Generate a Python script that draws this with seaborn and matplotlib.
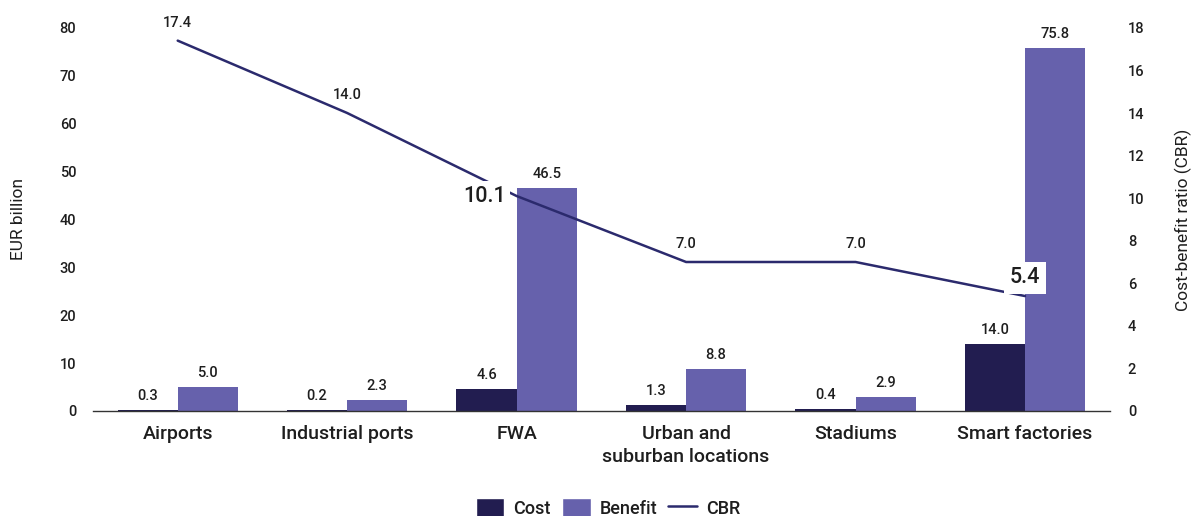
import numpy as np
import pandas as pd
import matplotlib
matplotlib.use("Agg")
import matplotlib.pyplot as plt
import seaborn as sns
from matplotlib.patches import Patch
from matplotlib.lines import Line2D

categories = ["Airports", "Industrial ports", "FWA", "Urban and\nsuburban locations", "Stadiums", "Smart factories"]
cost = [0.3, 0.2, 4.6, 1.3, 0.4, 14.0]
benefit = [5.0, 2.3, 46.5, 8.8, 2.9, 75.8]
cbr = [17.4, 14.0, 10.1, 7.0, 7.0, 5.4]

COST_C = "#221d50"
BEN_C = "#6661ac"
LINE_C = "#2b2a6d"
TXT = "#1e1e1e"

sns.set_theme(style="white")
plt.rcParams['font.family'] = ['Roboto', 'DejaVu Sans']
plt.rcParams['font.weight'] = 'medium'
plt.rcParams['text.color'] = TXT

df = pd.DataFrame({
    "Category": categories * 2,
    "Value": cost + benefit,
    "Series": ["Cost"] * len(categories) + ["Benefit"] * len(categories),
})

fig, ax = plt.subplots(figsize=(11.92, 5.16), dpi=100)
fig.subplots_adjust(left=0.078, right=0.931, bottom=0.2035, top=0.946)

sns.barplot(data=df, x="Category", y="Value", hue="Series", order=categories,
            hue_order=["Cost", "Benefit"], palette=[COST_C, BEN_C], width=0.71,
            gap=0, ax=ax, legend=False, saturation=1, linewidth=0)

ax.set_xlim(-0.5, len(categories) - 0.5)
ax.set_ylim(0, 80)
ax.set_yticks(np.arange(0, 81, 10))
ax.set_xlabel("")
ax.set_ylabel("EUR billion", fontsize=12.5, labelpad=24, color=TXT)
ax.tick_params(axis='x', labelsize=14, length=0, pad=10, colors=TXT)
ax.tick_params(axis='y', labelsize=10.5, length=0, pad=12, colors=TXT)
for lbl in ax.get_xticklabels():
    lbl.set_linespacing(1.35)
for s in ["top", "right", "left"]:
    ax.spines[s].set_visible(False)
ax.spines["bottom"].set_color("#333333")
ax.spines["bottom"].set_linewidth(1.0)

for cont in ax.containers:
    for bar in cont:
        h = bar.get_height()
        ax.annotate(f"{h:.1f}", (bar.get_x() + bar.get_width() / 2, h),
                    xytext=(0, 5), textcoords="offset points", ha="center", va="bottom",
                    fontsize=10.5, color=TXT)

ax2 = ax.twinx()
x_pos = np.arange(len(categories))
sns.lineplot(x=x_pos, y=cbr, ax=ax2, color=LINE_C, linewidth=1.8, zorder=3)
ax2.set_ylim(0, 18)
ax2.set_yticks(np.arange(0, 19, 2))
ax2.set_ylabel("Cost-benefit ratio (CBR)", fontsize=12.5, labelpad=22, color=TXT)
ax2.tick_params(axis='y', labelsize=10.5, length=0, pad=13, colors=TXT)
for s in ["top", "right", "left", "bottom"]:
    ax2.spines[s].set_visible(False)

for i, v in enumerate(cbr):
    if i == 2:
        ax2.annotate(f"{v:.1f}", (i, v), xytext=(-8, 0), textcoords="offset points",
                     ha="right", va="center", fontsize=15.5, color=TXT,
                     bbox=dict(boxstyle="square,pad=0.2", fc="white", ec="none"), zorder=5)
    elif i == 5:
        ax2.annotate(f"{v:.1f}", (i, v), xytext=(0, 13), textcoords="offset points",
                     ha="center", va="center", fontsize=15.5, color=TXT,
                     bbox=dict(boxstyle="square,pad=0.25", fc="white", ec="none"), zorder=5)
    else:
        ax2.annotate(f"{v:.1f}", (i, v), xytext=(0, 8), textcoords="offset points",
                     ha="center", va="bottom", fontsize=10.5, color=TXT)

handles = [Patch(facecolor=COST_C, label="Cost"),
           Patch(facecolor=BEN_C, label="Benefit"),
           Line2D([0], [0], color=LINE_C, linewidth=1.8, label="CBR")]
fig.legend(handles=handles, loc="lower center", bbox_to_anchor=(0.51, -0.035), ncol=3,
           frameon=False, fontsize=13, handlelength=1.6, handleheight=1.3,
           columnspacing=0.6, handletextpad=0.5)

fig.savefig("out.png", dpi=100)
